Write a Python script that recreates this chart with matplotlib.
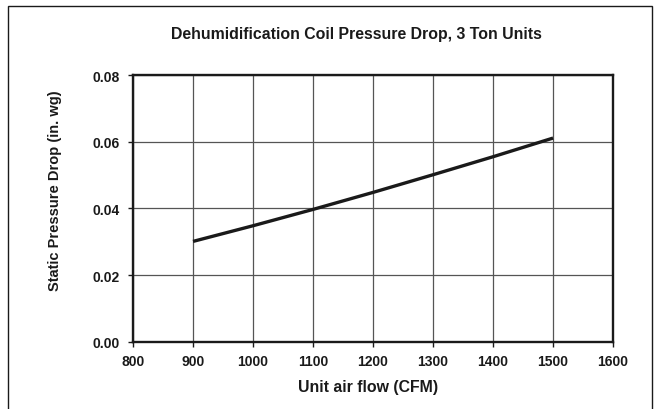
import matplotlib
matplotlib.use("Agg")
import matplotlib.pyplot as plt
from matplotlib.patches import Rectangle

plt.rcParams['font.family'] = ['Liberation Sans', 'DejaVu Sans']
plt.rcParams['font.weight'] = 'bold'

# data
airflow_cfm = [900, 1000, 1100, 1200, 1300, 1400, 1500]
pressure_drop = [0.0301, 0.0348, 0.0397, 0.0448, 0.0501, 0.0555, 0.0611]
x_ticks = [800, 900, 1000, 1100, 1200, 1300, 1400, 1500, 1600]
y_ticks = [0.00, 0.02, 0.04, 0.06, 0.08]

fig = plt.figure(figsize=(6.54, 4.10), dpi=100)
ax = fig.add_axes([0.2034, 0.164, 0.734, 0.6505])

ax.plot(airflow_cfm, pressure_drop, color='#1a1a1a', linewidth=2.4, solid_capstyle='butt')

ax.set_xlim(800, 1600)
ax.set_ylim(0, 0.08)
ax.set_xticks(x_ticks)
ax.set_yticks(y_ticks)
ax.set_yticklabels([f'{v:.2f}' for v in y_ticks])
ax.grid(True, color='#555555', linewidth=0.9)
ax.set_axisbelow(True)
for s in ax.spines.values():
    s.set_linewidth(1.7)
    s.set_color('#1a1a1a')
ax.tick_params(axis='both', direction='out', length=3.5, width=1, labelsize=10,
               colors='#1a1a1a')
ax.tick_params(axis='x', pad=5)
ax.tick_params(axis='y', pad=6)
for lbl in ax.get_xticklabels() + ax.get_yticklabels():
    lbl.set_fontweight('bold')

ax.set_xlabel('Unit air flow (CFM)', fontsize=11.4, fontweight='bold', color='#1a1a1a')
ax.xaxis.set_label_coords(368.5 / 654, 1 - 388 / 410, transform=fig.transFigure)
ax.set_ylabel('Static Pressure Drop (in. wg)', fontsize=10.5, fontweight='bold', color='#1a1a1a')
ax.yaxis.set_label_coords(55 / 654, 1 - 191 / 410, transform=fig.transFigure)
ax.yaxis.label.set_va('center')
ax.xaxis.label.set_va('center')
fig.text(356 / 654, 1 - 35 / 410, 'Dehumidification Coil Pressure Drop, 3 Ton Units',
         ha='center', va='center', fontsize=11.4, fontweight='bold', color='#1a1a1a')

# outer frame (bottom edge falls outside the image)
fig.patches.append(Rectangle((7.5 / 654, -0.05), 644 / 654, 1.05 - 6.5 / 410,
                             transform=fig.transFigure, fill=False,
                             edgecolor='#1a1a1a', linewidth=1.0))

fig.savefig('out.png', dpi=100)
